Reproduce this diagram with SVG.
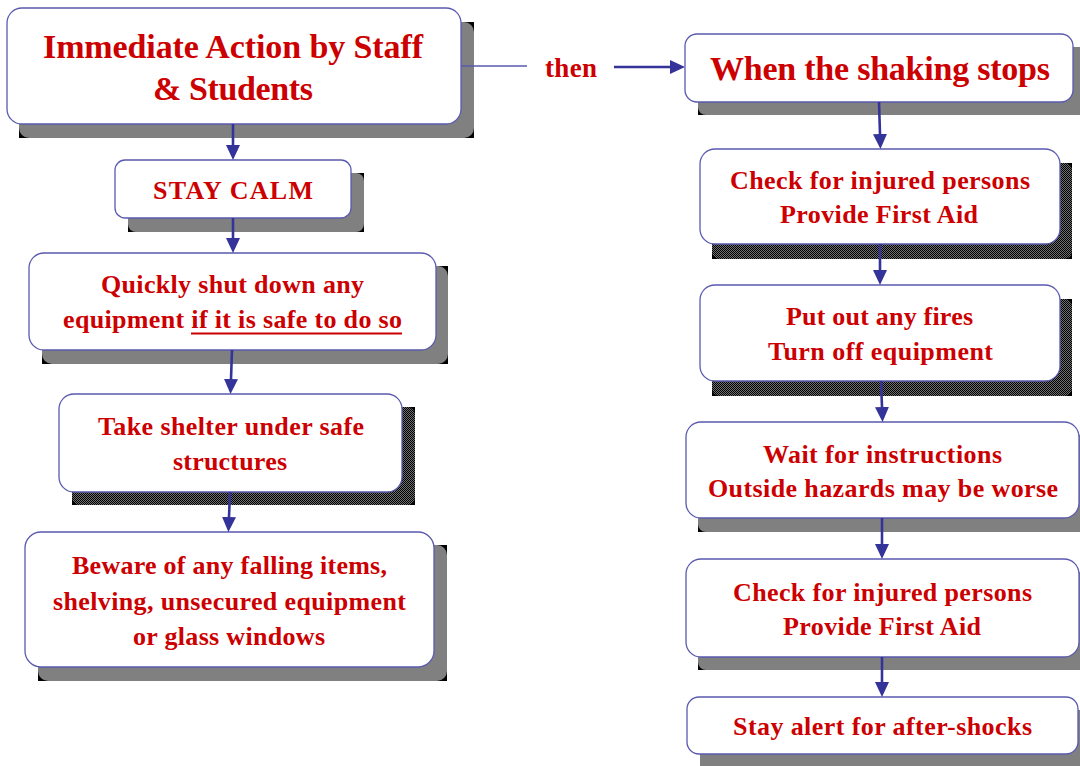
<svg xmlns="http://www.w3.org/2000/svg" width="1080" height="766" viewBox="0 0 1080 766">
<defs>
<style>
.box{fill:#fff;stroke:#5a5ab0;stroke-width:1.3}
.sh{fill:#808080}
.shd{fill:url(#dith)}
.blk{fill:#000}
.t{font-family:"Liberation Serif","Times New Roman",serif;font-weight:bold;fill:#cc0000;text-anchor:start}
.big{font-size:34px}
.sm{font-size:26px}
.con{stroke:#333399;stroke-width:2.6;fill:none}
.thin{stroke:#5a5ab0;stroke-width:1.3;fill:none}
</style>
<pattern id="dith" width="2" height="2" patternUnits="userSpaceOnUse">
<rect width="2" height="2" fill="#707070"/>
<rect width="1" height="1" fill="#000"/>
<rect x="1" y="1" width="1" height="1" fill="#000"/>
</pattern>
<marker id="ah" markerWidth="16" markerHeight="16" refX="0" refY="7" orient="auto" markerUnits="userSpaceOnUse">
<path d="M0,0 L15,7 L0,14 z" fill="#333399"/>
</marker>
</defs>
<rect width="1080" height="766" fill="#fff"/>

<g id="n1">
<rect class="blk" x="19" y="22" width="455" height="116"/>
<rect class="sh" x="19" y="22" width="455" height="116" rx="10"/>
<rect class="box" x="7" y="8" width="454" height="116" rx="15"/>
<text class="t big" x="43" y="58" textLength="380" lengthAdjust="spacing">Immediate Action by Staff</text>
<text class="t big" x="153" y="100" textLength="160" lengthAdjust="spacing">&amp; Students</text>
</g>

<g id="n2">
<rect class="blk" x="128" y="173" width="236" height="59"/>
<rect class="sh" x="128" y="173" width="236" height="59" rx="8"/>
<rect class="box" x="115" y="160" width="236" height="58" rx="10"/>
<text class="t sm" x="153" y="199" textLength="160" lengthAdjust="spacing">STAY CALM</text>
</g>

<g id="n3">
<rect class="blk" x="42" y="266" width="406" height="98"/>
<rect class="sh" x="42" y="266" width="406" height="98" rx="10"/>
<rect class="box" x="29" y="253" width="407" height="97" rx="15"/>
<text class="t sm" x="101" y="293" textLength="263" lengthAdjust="spacing">Quickly shut down any</text>
<text class="t sm" x="63" y="328" textLength="339" lengthAdjust="spacing">equipment if it is safe to do so</text>
<line x1="191" y1="333.5" x2="402" y2="333.5" stroke="#cc0000" stroke-width="2"/>
</g>

<g id="n4">
<rect class="blk" x="72" y="407" width="343" height="98"/>
<rect class="shd" x="72" y="407" width="343" height="98" rx="8"/>
<rect class="box" x="59" y="394" width="343" height="98" rx="15"/>
<text class="t sm" x="98" y="435" textLength="266" lengthAdjust="spacing">Take shelter under safe</text>
<text class="t sm" x="173" y="470" textLength="114" lengthAdjust="spacing">structures</text>
</g>

<g id="n5">
<rect class="blk" x="38" y="545" width="409" height="136"/>
<rect class="sh" x="38" y="545" width="409" height="136" rx="10"/>
<rect class="box" x="25" y="532" width="409" height="135" rx="16"/>
<text class="t sm" x="72" y="574" textLength="315" lengthAdjust="spacing">Beware of any falling items,</text>
<text class="t sm" x="53" y="610" textLength="353" lengthAdjust="spacing">shelving, unsecured equipment</text>
<text class="t sm" x="133" y="645" textLength="192" lengthAdjust="spacing">or glass windows</text>
</g>

<g id="then">
<text class="t" x="545" y="77" font-size="27" textLength="52" lengthAdjust="spacing">then</text>
</g>

<g id="r0">
<rect class="blk" x="698" y="47" width="390" height="68"/>
<rect class="sh" x="698" y="47" width="390" height="68" rx="8"/>
<rect class="box" x="685" y="34" width="388" height="68" rx="12"/>
<text class="t big" x="710" y="80" textLength="340" lengthAdjust="spacing">When the shaking stops</text>
</g>

<g id="r1">
<rect class="blk" x="712" y="163" width="360" height="96"/>
<rect class="shd" x="712" y="163" width="360" height="96" rx="8"/>
<rect class="box" x="700" y="149" width="360" height="95" rx="15"/>
<text class="t sm" x="730" y="189" textLength="300" lengthAdjust="spacing">Check for injured persons</text>
<text class="t sm" x="780" y="223" textLength="198" lengthAdjust="spacing">Provide First Aid</text>
</g>

<g id="r2">
<rect class="blk" x="712" y="299" width="360" height="97"/>
<rect class="shd" x="712" y="299" width="360" height="97" rx="8"/>
<rect class="box" x="700" y="285" width="360" height="96" rx="15"/>
<text class="t sm" x="786" y="325" textLength="187" lengthAdjust="spacing">Put out any fires</text>
<text class="t sm" x="768" y="360" textLength="225" lengthAdjust="spacing">Turn off equipment</text>
</g>

<g id="r3">
<rect class="blk" x="698" y="435" width="400" height="97"/>
<rect class="sh" x="698" y="435" width="400" height="97" rx="8"/>
<rect class="box" x="686" y="422" width="393" height="96" rx="15"/>
<text class="t sm" x="763" y="463" textLength="239" lengthAdjust="spacing">Wait for instructions</text>
<text class="t sm" x="708" y="497" textLength="350" lengthAdjust="spacing">Outside hazards may be worse</text>
</g>

<g id="r4">
<rect class="blk" x="698" y="572" width="400" height="98"/>
<rect class="sh" x="698" y="572" width="400" height="98" rx="8"/>
<rect class="box" x="686" y="559" width="393" height="98" rx="15"/>
<text class="t sm" x="733" y="601" textLength="299" lengthAdjust="spacing">Check for injured persons</text>
<text class="t sm" x="783" y="635" textLength="198" lengthAdjust="spacing">Provide First Aid</text>
</g>

<g id="r5">
<rect class="blk" x="700" y="710" width="400" height="70"/>
<rect class="sh" x="700" y="710" width="400" height="70" rx="8"/>
<rect class="box" x="687" y="697" width="391" height="57" rx="12"/>
<text class="t sm" x="733" y="735" textLength="299" lengthAdjust="spacing">Stay alert for after-shocks</text>
</g>

<g id="connectors">
<path class="thin" d="M461,66 H527"/>
<path class="con" d="M614,67 H670" marker-end="url(#ah)"/>
<path class="con" d="M233,124 V145" marker-end="url(#ah)"/>
<path class="con" d="M233,218 V238" marker-end="url(#ah)"/>
<path class="con" d="M232,350 L231,379" marker-end="url(#ah)"/>
<path class="con" d="M230,492 L229,517" marker-end="url(#ah)"/>
<path class="con" d="M879,102 L880,134" marker-end="url(#ah)"/>
<path class="con" d="M880,244 V270" marker-end="url(#ah)"/>
<path class="con" d="M881,381 L882,407" marker-end="url(#ah)"/>
<path class="con" d="M882,518 V544" marker-end="url(#ah)"/>
<path class="con" d="M882,657 V682" marker-end="url(#ah)"/>
</g>
</svg>
